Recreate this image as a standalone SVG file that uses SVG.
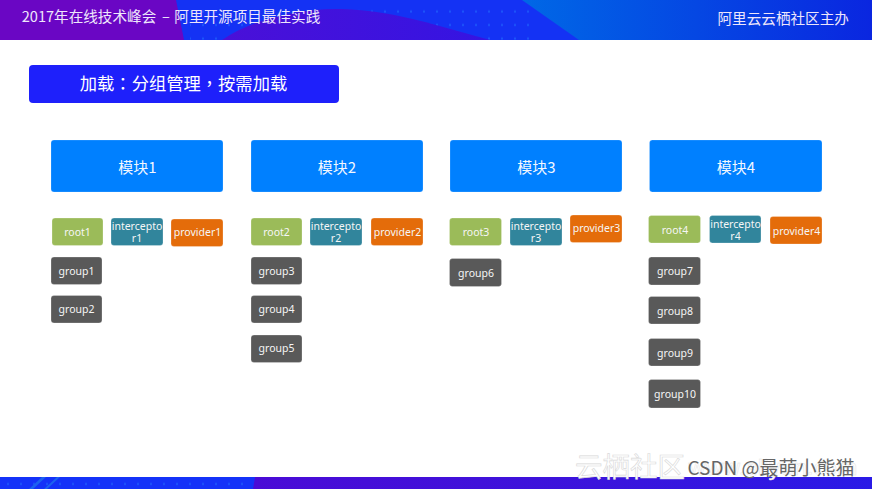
<svg xmlns="http://www.w3.org/2000/svg" width="872" height="489" viewBox="0 0 872 489">
<style>
text{font-family:"Noto Sans","Noto Sans CJK SC",sans-serif;fill:#fff;text-anchor:middle}
.cjk{font-family:"Noto Sans CJK SC",sans-serif}
.m rect{fill:#0080ff;stroke:#fff;stroke-opacity:.25;stroke-width:.7}
.m text{font-size:15px;font-family:"Noto Sans CJK SC",sans-serif;fill:#f2f7ff}
.s text{font-size:10.5px;fill:#f6f6f6}
.s rect{stroke:#fff;stroke-opacity:.35;stroke-width:.7}
.r rect{fill:#9bbb59}
.i rect{fill:#31859c}
.p rect{fill:#e46c0a}
.g rect{fill:#595959}
.h text{text-anchor:start;font-size:14.6px;font-family:"Noto Sans CJK SC",sans-serif;fill:#eee6fb}
</style>
<defs>
<linearGradient id="topR" x1="0" y1="0" x2="1" y2="0"><stop offset="0" stop-color="#0068e6"/><stop offset="1" stop-color="#0a26e0"/></linearGradient>
<linearGradient id="blob" x1="0" y1="0" x2="1" y2="0"><stop offset="0" stop-color="#4a10d8"/><stop offset="1" stop-color="#3514e2"/></linearGradient>
<linearGradient id="botR" x1="0" y1="0" x2="1" y2="0"><stop offset="0" stop-color="#4a0bd6"/><stop offset=".55" stop-color="#3b14dc"/><stop offset="1" stop-color="#2a1ae6"/></linearGradient>
<pattern id="dots" x="7" y="5" width="13" height="13.500" patternUnits="userSpaceOnUse"><rect x="0" y="5.500" width="2" height="2" fill="#1c55fa"/></pattern>
</defs>
<rect width="872" height="489" fill="#fff"/>
<g id="header" class="h">
<rect width="872" height="40" fill="#1432f4"/>
<rect x="190" width="350" height="40" fill="url(#dots)"/>
<path d="M0 0H176L184 40H0Z" fill="#6a06c4"/>
<path d="M222 40C250 20 300 8 340 9C380 10 410 18 436 25L490 40Z" fill="url(#blob)"/>
<path d="M522 0H872V40H579Z" fill="url(#topR)"/>
<text y="22"><tspan x="21.700">2017年在线技术峰会</tspan><tspan x="162">–</tspan><tspan x="174.300">阿里开源项目最佳实践</tspan></text>
<text x="717.500" y="23.500">阿里云云栖社区主办</text>
</g>
<g id="footer">
<rect y="477" width="872" height="12" fill="#1432f8"/>
<rect width="254" y="477" height="12" fill="url(#dots)"/>
<path d="M255 477H872V489H253Z" fill="url(#botR)"/>
<path d="M29 489L42 477H46L33 489ZM44 489L57 477H60L47 489Z" fill="#1c62f0"/>
</g>
<g id="title">
<rect x="29" y="65" width="310" height="38" rx="4" fill="#1e20fb"/>
<text x="183.500" y="90" font-size="17.300" style="font-family:'Noto Sans CJK SC',sans-serif">加载<tspan style="font-family:'Noto Sans CJK TC',sans-serif">：</tspan>分组管理<tspan style="font-family:'Noto Sans CJK TC',sans-serif">，</tspan>按需加载</text>
</g>
<g id="connectors"></g>
<g id="module1" class="m"><rect x="51" y="140" width="172" height="52" rx="3"/><text x="137.500" y="172.500">模块1</text></g>
<g id="module2" class="m"><rect x="251" y="140" width="172" height="52" rx="3"/><text x="337" y="172.500">模块2</text></g>
<g id="module3" class="m"><rect x="450" y="140" width="172" height="52" rx="3"/><text x="536.500" y="172.500">模块3</text></g>
<g id="module4" class="m"><rect x="649.500" y="140" width="172.500" height="52" rx="3"/><text x="736" y="172.500">模块4</text></g>
<g id="root1" class="s r"><rect x="52" y="218" width="51" height="27.500" rx="3"/><text x="77.500" y="236">root1</text></g>
<g id="interceptor1" class="s i"><rect x="111" y="218" width="52" height="27.500" rx="3"/><text y="230"><tspan x="137">intercepto</tspan><tspan x="137" dy="12">r1</tspan></text></g>
<g id="provider1" class="s p"><rect x="171" y="219" width="52" height="27.500" rx="3"/><text x="197.500" y="236">provider1</text></g>
<g id="group1" class="s g"><rect x="51" y="257" width="51" height="27.500" rx="3"/><text x="76.500" y="274.500">group1</text></g>
<g id="group2" class="s g"><rect x="51" y="295.500" width="51" height="27.500" rx="3"/><text x="76.500" y="313">group2</text></g>
<g id="root2" class="s r"><rect x="251" y="218" width="51" height="27.500" rx="3"/><text x="276.500" y="236">root2</text></g>
<g id="interceptor2" class="s i"><rect x="310" y="218" width="52" height="27.500" rx="3"/><text y="230"><tspan x="336">intercepto</tspan><tspan x="336" dy="12">r2</tspan></text></g>
<g id="provider2" class="s p"><rect x="371" y="218" width="52" height="27.500" rx="3"/><text x="397.500" y="236">provider2</text></g>
<g id="group3" class="s g"><rect x="251" y="257" width="51" height="27.500" rx="3"/><text x="276.500" y="274.500">group3</text></g>
<g id="group4" class="s g"><rect x="251" y="295.500" width="51" height="27.500" rx="3"/><text x="276.500" y="313">group4</text></g>
<g id="group5" class="s g"><rect x="251" y="335" width="51" height="27.500" rx="3"/><text x="276.500" y="352">group5</text></g>
<g id="root3" class="s r"><rect x="449.500" y="218" width="52" height="27.500" rx="3"/><text x="476" y="236">root3</text></g>
<g id="interceptor3" class="s i"><rect x="510" y="218" width="52" height="27.500" rx="3"/><text y="230"><tspan x="536">intercepto</tspan><tspan x="536" dy="12">r3</tspan></text></g>
<g id="provider3" class="s p"><rect x="570" y="215" width="52" height="27.500" rx="3"/><text x="596.500" y="232">provider3</text></g>
<g id="group6" class="s g"><rect x="449.500" y="258.500" width="52" height="28" rx="3"/><text x="476" y="276.500">group6</text></g>
<g id="root4" class="s r"><rect x="648.500" y="215.500" width="52" height="27.500" rx="3"/><text x="675" y="233.500">root4</text></g>
<g id="interceptor4" class="s i"><rect x="709.500" y="215.500" width="51.500" height="27.500" rx="3"/><text y="227.500"><tspan x="735.500">intercepto</tspan><tspan x="735.500" dy="12">r4</tspan></text></g>
<g id="provider4" class="s p"><rect x="770" y="216.500" width="52" height="27.500" rx="3"/><text x="796.500" y="234.500">provider4</text></g>
<g id="group7" class="s g"><rect x="648.500" y="257" width="52" height="28" rx="3"/><text x="675" y="275">group7</text></g>
<g id="group8" class="s g"><rect x="648.500" y="296.500" width="52" height="27.500" rx="3"/><text x="675" y="314.500">group8</text></g>
<g id="group9" class="s g"><rect x="648.500" y="338.500" width="52" height="27.500" rx="3"/><text x="675" y="356.500">group9</text></g>
<g id="group10" class="s g"><rect x="648.500" y="379.500" width="52" height="28.500" rx="3"/><text x="675" y="398">group10</text></g>
<g id="watermark">
<text class="cjk" x="630" y="476.500" font-size="27.500" style="fill:#fff;stroke:#d8d8d8;stroke-width:.6">云栖社区</text>
<text x="773" y="475" font-size="22" style="fill:#fff;stroke:#e4e4e4;stroke-width:.5">www.aliyun.com</text>
<text class="cjk" x="771" y="474.500" font-size="19" style="fill:#666">CSDN @最萌小熊猫</text>
</g>
</svg>
